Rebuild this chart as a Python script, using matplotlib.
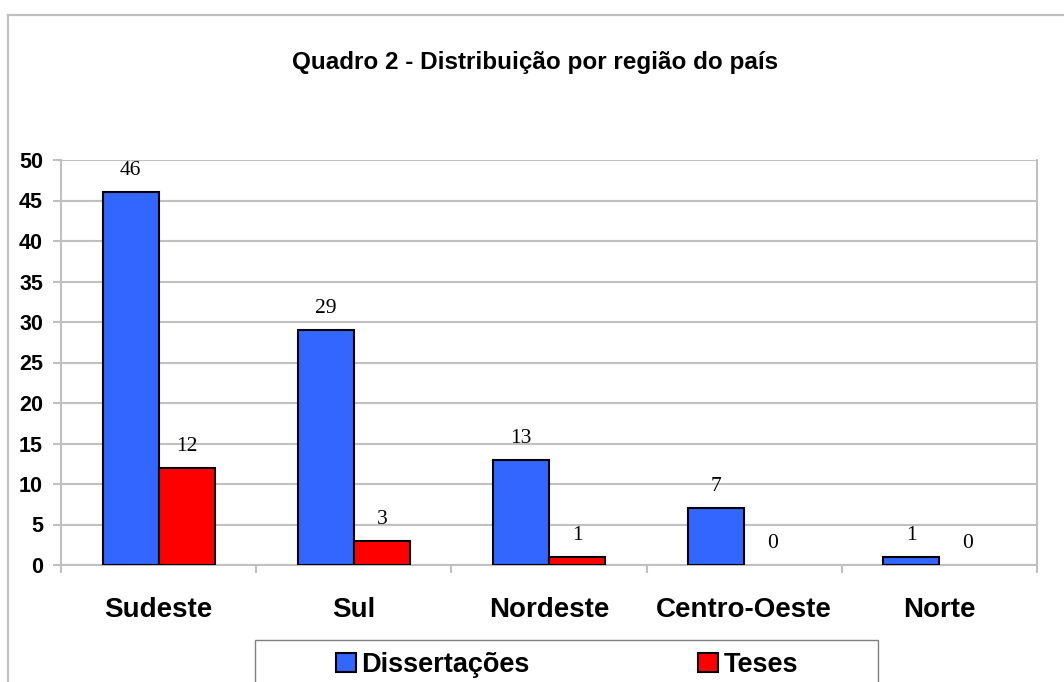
import numpy as np
import matplotlib.pyplot as plt
from matplotlib.patches import Rectangle
from matplotlib.lines import Line2D

# -------- DATA --------
regioes = ["Sudeste", "Sul", "Nordeste", "Centro-Oeste", "Norte"]
dissertacoes = [46, 29, 13, 7, 1]
teses = [12, 3, 1, 0, 0]

W, H = 1064, 682
GRAY = "#c0c0c0"

plt.rcParams["font.family"] = ["Liberation Sans", "DejaVu Sans"]

fig = plt.figure(figsize=(W / 100, H / 100), dpi=100)
ax = fig.add_axes([61 / W, 1 - 565 / H, (1037 - 61) / W, (565 - 160) / H])

x = np.arange(len(regioes))
bw = 0.287
# zero-height bars get no outline (nothing drawn in the original)
b1 = ax.bar(x - bw / 2, dissertacoes, bw, color="#3366ff", edgecolor="black",
            linewidth=[1.5 if v else 0 for v in dissertacoes],
            label="Dissertações", zorder=3)
b2 = ax.bar(x + bw / 2, teses, bw, color="#ff0000", edgecolor="black",
            linewidth=[1.5 if v else 0 for v in teses],
            label="Teses", zorder=3)

# value labels
for bars, vals in [(b1, dissertacoes), (b2, teses)]:
    for r, v in zip(bars, vals):
        ax.annotate(str(v), (r.get_x() + r.get_width() / 2, v),
                    xytext=(0, 12.2), textcoords="offset points",
                    ha="center", va="baseline", fontsize=15.5,
                    family=["Liberation Serif", "DejaVu Serif"])

ax.set_xlim(-0.5, len(regioes) - 0.5)
ax.set_ylim(0, 50)
ax.set_yticks(range(0, 51, 5))
ax.set_xticks(x)
ax.set_xticklabels(regioes, fontsize=20, fontweight="bold")
ax.set_xticks(np.arange(-0.5, len(regioes)), minor=True)
ax.tick_params(axis="x", which="major", length=0, pad=23)
ax.tick_params(axis="x", which="minor", length=6, width=1.5, color=GRAY)
ax.tick_params(axis="y", length=6, width=1.5, color=GRAY, pad=7,
               labelsize=15.5)
for lab in ax.get_yticklabels():
    lab.set_fontweight("bold")

ax.grid(axis="y", color=GRAY, linewidth=1.5, zorder=0)
ax.set_axisbelow(True)
for s in ["left", "bottom", "right"]:
    ax.spines[s].set_color(GRAY)
    ax.spines[s].set_linewidth(1.5)
ax.spines["top"].set_visible(False)

# title
fig.text(535 / W, 1 - 62 / H, "Quadro 2 - Distribuição por região do país",
         ha="center", va="center", fontsize=17.5, fontweight="bold")

# outer chart border (cut off right and bottom)
fig.add_artist(Line2D([8 / W, 8 / W], [0, 1 - 15 / H], color=GRAY,
                      linewidth=1.6, transform=fig.transFigure))
fig.add_artist(Line2D([8 / W, 1], [1 - 15 / H, 1 - 15 / H], color=GRAY,
                      linewidth=1.6, transform=fig.transFigure))

# legend
fig.add_artist(Rectangle((255 / W, -0.05), (878 - 255) / W, (682 - 640) / H + 0.05,
                         transform=fig.transFigure, fill=False,
                         edgecolor="#808080", linewidth=1))
fig.legend(handles=[b1, b2], labels=["Dissertações", "Teses"], loc="center",
           bbox_to_anchor=(567 / W, 1 - 665 / H), ncol=2, frameon=False,
           prop={"weight": "bold", "size": 19.5}, handlelength=0.74,
           handleheight=0.74, handletextpad=0.22, columnspacing=6.2)

fig.savefig("out.png", dpi=100)
